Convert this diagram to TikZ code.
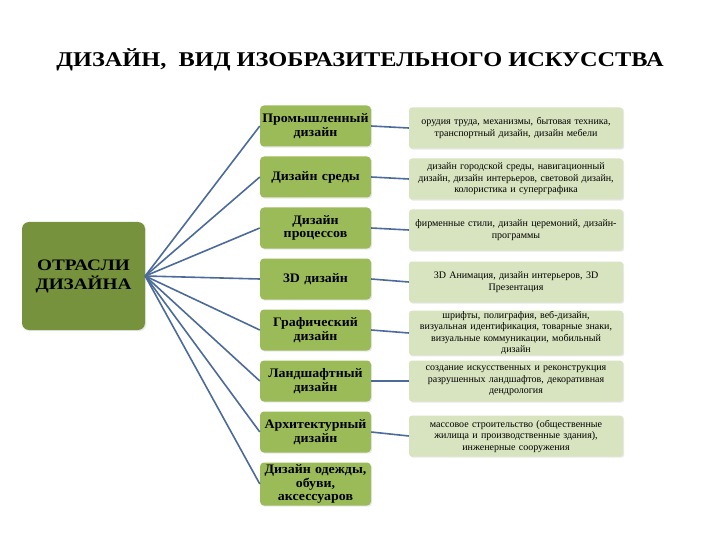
\documentclass[tikz,border=0pt]{standalone}
\usepackage{fontspec}
\setmainfont{Liberation Serif}
\newfontfamily\titlefont{Liberation Serif}[FakeStretch=1.16]
\newfontfamily\rootfont{Liberation Serif}[FakeStretch=1.2]
\newfontfamily\midfont{Liberation Serif}[FakeStretch=1.07]
\usetikzlibrary{shadows}
\begin{document}
\begin{tikzpicture}[x=1pt,y=-1pt,
  shad/.style={drop shadow={opacity=0.18,shadow xshift=1.2pt,shadow yshift=-1.2pt}},
  rootbox/.style={fill=rootgreen,rounded corners=7pt,minimum width=123pt,minimum height=108pt,font=\rootfont\fontsize{16}{19}\selectfont\bfseries,align=center,shad},
  midbox/.style={fill=midgreen,rounded corners=4pt,minimum width=111pt,minimum height=41pt,text width=110pt,font=\midfont\fontsize{13}{13.8}\selectfont\bfseries,align=center,inner sep=0.5pt,shad},
  rightbox/.style={fill=lightgreen,rounded corners=3pt,minimum width=214pt,minimum height=41pt,text width=212pt,font=\fontsize{10}{11.5}\selectfont,align=center,inner sep=0.5pt,shad},
  conn/.style={draw=connblue,line width=1.6pt}]
\definecolor{rootgreen}{HTML}{76923C}
\definecolor{midgreen}{HTML}{9BBB59}
\definecolor{lightgreen}{HTML}{D8E3BF}
\definecolor{connblue}{HTML}{4C6A9A}
\useasboundingbox (0,0) rectangle (720,540);
\node (title) at (360,60) {\titlefont\fontsize{21}{23}\selectfont\bfseries ДИЗАЙН,\ \ ВИД ИЗОБРАЗИТЕЛЬНОГО ИСКУССТВА};
\node[rootbox] (root) at (83.5,276) {ОТРАСЛИ\\ДИЗАЙНА};
\node[midbox] (m1) at (315.5,126) {Промышленный\\дизайн};
\node[midbox] (m2) at (315.5,177) {Дизайн среды};
\node[midbox] (m3) at (315.5,228) {Дизайн\\процессов};
\node[midbox] (m4) at (315.5,279) {3D дизайн};
\node[midbox] (m5) at (315.5,330) {Графический\\дизайн};
\node[midbox] (m6) at (315.5,381) {Ландшафтный\\дизайн};
\node[midbox] (m7) at (315.5,432) {Архитектурный\\дизайн};
\node[midbox,minimum height=43pt] (m8) at (315.5,484) {Дизайн одежды,\\обуви,\\аксессуаров};
\node[rightbox] (r1) at (516,128) {орудия труда, механизмы, бытовая техника,\\транспортный дизайн, дизайн мебели};
\node[rightbox] (r2) at (516,179) {дизайн городской среды, навигационный\\дизайн, дизайн интерьеров, световой дизайн,\\колористика и суперграфика};
\node[rightbox] (r3) at (516,230) {фирменные стили, дизайн церемоний, дизайн-\\программы};
\node[rightbox] (r4) at (516,282) {3D Анимация, дизайн интерьеров, 3D\\Презентация};
\node[rightbox] (r5) at (516,333) {шрифты, полиграфия, веб-дизайн,\\визуальная идентификация, товарные знаки,\\визуальные коммуникации, мобильный\\дизайн};
\node[rightbox] (r6) at (516,381) {создание искусственных и реконструкция\\разрушенных ландшафтов, декоративная\\дендрология};
\node[rightbox] (r7) at (516,436) {массовое строительство (общественные\\жилища и производственные здания),\\инженерные сооружения};
\foreach \i in {1,...,8} \draw[conn] (root.east) -- (m\i.west);
\foreach \i in {1,...,7} \draw[conn] (m\i.east) -- (r\i.west);
\end{tikzpicture}
\end{document}
